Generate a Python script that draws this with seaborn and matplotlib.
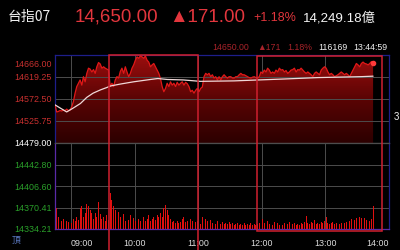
import numpy as np
import pandas as pd
import matplotlib
matplotlib.use("Agg")
import matplotlib.pyplot as plt
import seaborn as sns
from matplotlib.colors import LinearSegmentedColormap
from matplotlib.patches import Rectangle, PathPatch
from matplotlib.transforms import ScaledTranslation

# ---------------- data ----------------
prev_close = 14479.00
session_minutes = 300          # 08:45 -> 13:45
axis_minutes = 315             # 08:45 -> 14:00

price = [
    14560, 14545, 14546, 14548, 14547, 14549, 14548, 14551, 14548, 14549,
    14556, 14567, 14585, 14599, 14606, 14613, 14602, 14620, 14609, 14627,
    14638, 14636, 14630, 14635, 14627, 14641, 14650, 14647, 14638, 14641,
    14638, 14636, 14634, 14599, 14606, 14599, 14613, 14620, 14617, 14631,
    14638, 14627, 14641, 14630, 14620, 14627, 14638, 14645, 14655, 14662,
    14659, 14664, 14662, 14659, 14664, 14655, 14651, 14641, 14645, 14648,
    14641, 14634, 14627, 14616, 14599, 14588, 14595, 14606, 14599, 14609,
    14602, 14606, 14599, 14608, 14602, 14606, 14609, 14602, 14608, 14605,
    14599, 14588, 14591, 14585, 14591, 14595, 14588, 14595,
    14598, 14620, 14627, 14624, 14627, 14620, 14624, 14617, 14620, 14613,
    14620, 14613, 14620, 14624, 14620, 14617, 14620, 14620, 14617, 14617,
    14620, 14620, 14624, 14627, 14624, 14624, 14622, 14620, 14618, 14617,
    14619, 14620, 14618, 14617, 14620, 14630, 14627, 14634, 14630, 14638,
    14634, 14627, 14630, 14627, 14634, 14630, 14638, 14634, 14635, 14630,
    14633, 14627, 14630, 14634, 14635, 14638, 14630, 14635, 14634, 14638,
    14634, 14630, 14627, 14630, 14627, 14624, 14620, 14627, 14630, 14627,
    14624, 14634, 14638, 14641, 14638, 14630, 14624, 14627, 14624, 14620,
    14622, 14624, 14627, 14630, 14627, 14624, 14627, 14624, 14620, 14627,
    14634, 14641, 14648, 14645, 14641, 14648, 14651, 14648, 14647, 14645,
    14648, 14652, 14650,
]

volume = [
    41, 21, 12, 9, 8, 10, 6, 8, 7, 9,
    6, 10, 8, 12, 9, 21, 23, 12, 16, 25,
    23, 19, 16, 10, 16, 12, 27, 15, 10, 12,
    8, 14, 9, 36, 29, 23, 19, 14, 17, 12,
    9, 15, 8, 12, 9, 14, 7, 11, 8, 44,
    10, 8, 7, 12, 8, 10, 14, 8, 10, 12,
    9, 14, 12, 16, 12, 21, 24, 19, 14, 10,
    7, 8, 6, 8, 6, 7, 10, 12, 7, 8,
    6, 10, 8, 10, 7, 8, 6, 5,
    12, 17, 10, 8, 6, 9, 6, 7, 5, 8,
    6, 5, 7, 5, 6, 5, 7, 5, 6, 4,
    5, 6, 4, 5, 4, 6, 4, 5, 4, 6,
    4, 5, 4, 5, 6, 15, 10, 6, 5, 8,
    5, 6, 4, 7, 5, 6, 4, 5, 4, 6,
    4, 5, 7, 4, 5, 6, 4, 5, 4, 6,
    5, 7, 13, 6, 5, 7, 6, 9, 5, 6,
    5, 7, 6, 8, 12, 6, 5, 6, 7, 5,
    6, 7, 5, 6, 8, 6, 7, 9, 8, 10,
    14, 9, 11, 30, 12, 11, 13, 11, 9, 12,
    8, 10, 23,
]

avg_minutes = [0, 11, 17, 24, 30, 36, 43, 49, 52, 61, 74, 90, 97, 106,
               121, 137, 169, 192, 216, 248, 289, 300]
avg_price = [14560, 14545, 14553, 14563, 14576, 14585, 14592, 14597, 14600,
             14604, 14609, 14614, 14616, 14614, 14613, 14610, 14611, 14613,
             14615, 14618, 14620, 14621]

price_ticks = [14479.00, 14525.75, 14572.50, 14619.25, 14666.00]
price_tick_labels = ["14479.00", "14525.75", "14572.50", "14619.25", "14666.00"]
vol_tick_labels = ["14334.21", "14370.41", "14406.60", "14442.80", "14479.00"]
time_ticks = [15, 75, 135, 195, 255, 315]
time_labels = ["09:00", "10:00", "11:00", "12:00", "13:00", "14:00"]

minutes = np.linspace(0, session_minutes, len(price))
df = pd.DataFrame({"minute": minutes, "price": price, "volume": volume})
avg_df = pd.DataFrame({"minute": avg_minutes, "avg": avg_price})

# ---------------- styling ----------------
sns.set_style("dark")
plt.rcParams["font.family"] = ["Liberation Sans", "Noto Sans CJK TC", "DejaVu Sans"]
BG = "#000000"
GRID = "#4d4d4d"
BLUE = "#1e1e8a"
PURPLE = "#5a2aa8"
RED_TXT = "#e2363d"
DIM_RED = "#a8232a"
BOXRED = "#d0202f"

W, H = 400, 250
fig = plt.figure(figsize=(4, 2.5), dpi=100, facecolor=BG)

def fx(px):
    return px / W

def fy(py):
    return 1 - py / H

L, R = 55, 389
ax = fig.add_axes([fx(L), fy(143), (R - L) / W, (143 - 55) / H])
axv = fig.add_axes([fx(L), fy(229), (R - L) / W, (229 - 143) / H])

for a in (ax, axv):
    a.set_facecolor(BG)
    a.set_xlim(0, axis_minutes)
    a.tick_params(length=0)
    for x in time_ticks[:-1]:
        a.axvline(x, color=GRID, lw=0.7, zorder=0.5)

# --- price panel ---
base = prev_close
fill = ax.fill_between(df["minute"], df["price"], base, color="none", lw=0)
grad = np.linspace(0, 1, 256).reshape(-1, 1)
cmap = LinearSegmentedColormap.from_list("g", ["#2c0000", "#5a0404", "#9c0e0e"])
im = ax.imshow(grad, extent=[0, axis_minutes, price_ticks[0], price_ticks[-1]],
               aspect="auto", cmap=cmap, origin="lower", zorder=1)
clip = PathPatch(fill.get_paths()[0], transform=ax.transData,
                 facecolor="none", edgecolor="none")
ax.add_patch(clip)
im.set_clip_path(clip)

for yv in price_ticks[1:4]:
    ax.axhline(yv, color=GRID, lw=0.7, zorder=1.5)

sns.lineplot(data=df, x="minute", y="price", ax=ax, color="#e01818", lw=0.9, zorder=3)
sns.lineplot(data=avg_df, x="minute", y="avg", ax=ax, color="#f0d8d8", lw=0.9, zorder=4)
ax.plot(df["minute"].iloc[-1], df["price"].iloc[-1], "o", color="#ff3a3a", ms=3, zorder=5)

ax.set_xlim(0, axis_minutes)
ax.set_ylim(price_ticks[0], price_ticks[-1])
ax.set_yticks(price_ticks[1:])
ax.set_yticklabels(price_tick_labels[1:], fontsize=6.4)
ax.set_xticks([])
ax.set_xlabel("")
ax.set_ylabel("")
ax.tick_params(axis="y", pad=2.5)
labs = ax.get_yticklabels()
for i, lab in enumerate(labs):
    lab.set_color("#c8302f")
labs[-1].set_transform(labs[-1].get_transform() + ScaledTranslation(0, -6 / 72, fig.dpi_scale_trans))

ax.spines["left"].set_color(BLUE)
ax.spines["top"].set_color(BLUE)
ax.spines["right"].set_color(BLUE)
ax.spines["bottom"].set_color(GRID)
for s in ax.spines.values():
    s.set_linewidth(0.9)

# --- volume panel ---
vmax = 86
axv.bar(df["minute"], df["volume"], width=0.8, color="#e01010", lw=0, zorder=2)
vt = [0, vmax * 0.25, vmax * 0.5, vmax * 0.75, vmax]
for yv in vt[1:4]:
    axv.axhline(yv, color=GRID, lw=0.7, zorder=0.5)
axv.set_ylim(0, vmax)
axv.set_yticks(vt)
axv.set_yticklabels(vol_tick_labels, fontsize=6.4)
axv.tick_params(axis="y", pad=2.5)
for i, lab in enumerate(axv.get_yticklabels()):
    lab.set_color("#ffffff" if i == 4 else "#2aa02a")
axv.set_xticks(time_ticks)
axv.set_xticklabels(time_labels, fontsize=6.4, color="#dddddd")
axv.tick_params(axis="x", pad=7)
xl = axv.get_xticklabels()
xl[0].set_ha("left")
xl[-1].set_ha("right")
axv.set_xlabel("")
axv.set_ylabel("")
axv.spines["left"].set_color(PURPLE)
axv.spines["bottom"].set_color(PURPLE)
axv.spines["right"].set_color(BLUE)
axv.spines["top"].set_color(GRID)
for s in axv.spines.values():
    s.set_linewidth(0.9)

# ---------------- header texts ----------------
fig.text(fx(8), fy(17), "台指07", color="#f0f0f0", fontsize=10, va="center", ha="left",
         family=["Noto Sans CJK TC", "Liberation Sans"])
fig.text(fx(75), fy(17), "14,650.00", color=RED_TXT, fontsize=13.5, va="center", ha="left")
fig.text(fx(169), fy(17), "▲171.00", color=RED_TXT, fontsize=13.5, va="center", ha="left",
         family=["Liberation Sans", "DejaVu Sans"])
fig.text(fx(253), fy(18), "+1.18%", color=RED_TXT, fontsize=9, va="center", ha="left")
fig.text(fx(303), fy(18), "14,249.18億", color="#f4f4f4", fontsize=9.6, va="center", ha="left",
         family=["Liberation Sans", "Noto Sans CJK TC"])

fig.text(fx(212), fy(47), "14650.00", color=DIM_RED, fontsize=6.3, va="center", ha="left")
fig.text(fx(257), fy(47), "▲171", color=DIM_RED, fontsize=6.3, va="center", ha="left",
         family=["Liberation Sans", "DejaVu Sans"])
fig.text(fx(287), fy(47), "1.18%", color=DIM_RED, fontsize=6.3, va="center", ha="left")
fig.text(fx(318), fy(47), "116169", color="#f0f0f0", fontsize=6.3, va="center", ha="left")
fig.text(fx(353), fy(47), "13:44:59", color="#f0f0f0", fontsize=6.3, va="center", ha="left")

fig.text(fx(12), fy(240), "頂", color="#5a78c0", fontsize=6.4, va="center", ha="left",
         family=["Noto Sans CJK TC"])
fig.text(fx(394), fy(117), "3", color="#f0f0f0", fontsize=7, va="center", ha="left")

# ---------------- red highlight boxes ----------------
fig.add_artist(Rectangle((fx(109), fy(252)), fx(198 - 109), (252 - 55) / H,
                         transform=fig.transFigure, fill=False, ec=BOXRED, lw=1.1, zorder=10))
fig.add_artist(Rectangle((fx(257), fy(231)), fx(381.5 - 257), (231 - 55.5) / H,
                         transform=fig.transFigure, fill=False, ec=BOXRED, lw=1.1, zorder=10))

fig.savefig("out.png", dpi=100, facecolor=BG)
